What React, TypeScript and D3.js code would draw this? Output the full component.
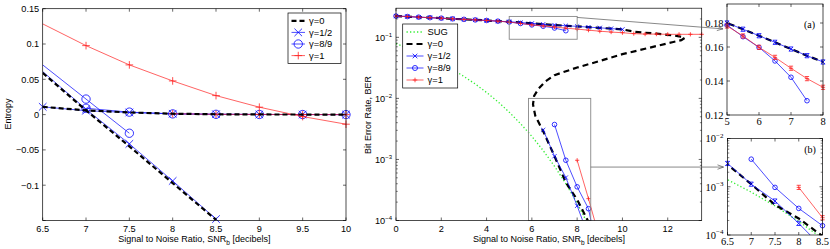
import React from 'react';
import * as d3 from 'd3';

// ---------- left panel: entropy ----------
const entSnr = [6.5, 7, 7.5, 8, 8.5, 9, 9.5, 10];
const entSlopeSnr = [6.5, 7, 7.5, 8, 8.5];
const entG0Flat = [0.011, 0.006, 0.003, 0.0012, 0.0005, 0.0002, 0.0001, 0];
const entG0Slope = [0.059, 0.006, -0.045, -0.097, -0.149];
const entHalfFlat = [0.011, 0.0055, 0.003, 0.0012, 0.0005, 0.0002, 0.0001, 0];
const entHalfSlope = [0.061, 0.0075, -0.0415, -0.094, -0.148];
const entNinthSnr = [7, 7.5, 8, 8.5, 9, 9.5, 10];
const entNinthFlat = [0.009, 0.0035, 0.001, 0.0004, 0.0002, 0.0001, 0];
const entNinthSlopeSnr = [6.5, 7, 7.5];
const entNinthSlope = [0.0704, 0.022, -0.0264];
const entOneCurve = [0.1285, 0.0977, 0.0704, 0.0477, 0.0269, 0.0105, -0.0028, -0.0136];
const entOneFlatSnr = [8, 8.5, 9, 9.5, 10];
const entOneFlat = [0.0012, 0.0004, 0.0002, 0.0001, 0];
const entXTicks = [6.5, 7, 7.5, 8, 8.5, 9, 9.5, 10];
const entYTicks = [-0.15, -0.1, -0.05, 0, 0.05, 0.1, 0.15];
const entYLabels = [-0.1, -0.05, 0, 0.05, 0.1, 0.15];

// ---------- middle panel: bit error rate ----------
const berSnr = [0, 0.5, 1, 1.5, 2, 2.5, 3, 3.5, 4, 4.5, 5, 5.5, 6, 6.5, 7, 7.5, 8, 8.5, 9, 9.5, 10,
  10.5, 11, 11.5, 12, 12.5, 13, 13.5];
const sugSnr = [0, 0.5, 1, 1.5, 2, 2.5, 3, 3.5, 4, 4.5, 5, 5.5, 6, 6.5, 7, 7.5, 8, 8.5];
const sugBer = [0.0786, 0.0671, 0.0563, 0.0464, 0.0375, 0.0296, 0.0229, 0.0172, 0.0125, 0.00882,
  0.00595, 0.00385, 0.00239, 0.0014, 0.000773, 0.000401, 0.000191, 0.000084];
const halfUpper = [0.223, 0.219, 0.214, 0.21, 0.206, 0.201, 0.197, 0.193, 0.189, 0.184, 0.18,
  0.1748, 0.1694, 0.1639, 0.1588, 0.1549, 0.1512, 0.147, 0.143, 0.139, 0.135];
const halfLowerSnr = [6.5, 7, 7.5, 8, 8.5];
const halfLower = [0.00304, 0.00113, 0.000505, 0.000174, 0.000055];
const ninthUpper = [0.223, 0.219, 0.214, 0.21, 0.206, 0.201, 0.197, 0.193, 0.189, 0.184, 0.1783,
  0.1686, 0.1598, 0.1518, 0.1422, 0.1284];
const ninthLowerSnr = [7, 7.5, 8, 8.5, 9];
const ninthLower = [0.00373, 0.00097, 0.000356, 0.000156, 0.00002];
const oneUpper = [0.223, 0.219, 0.214, 0.21, 0.206, 0.201, 0.197, 0.193, 0.189, 0.184, 0.1775,
  0.1692, 0.1598, 0.1539, 0.1475, 0.1414, 0.1363, 0.131, 0.126, 0.122, 0.119, 0.115, 0.113,
  0.113, 0.112, 0.112, 0.112, 0.112];
const oneLowerSnr = [8, 8.5, 9];
const oneLower = [0.00097, 0.000228, 0.00005];
// gamma = 0 : one S-shaped curve (upper branch, turn, middle branch, lower branch)
const g0Snr = [0, 0.5, 1, 1.5, 2, 2.5, 3, 3.5, 4, 4.5, 5, 5.5, 6, 6.5, 7, 7.5, 8, 8.5, 9, 9.5, 10,
  10.5, 11, 11.5, 12, 12.5, 12.75, 12.6, 12.2, 11.5, 11, 10, 9, 8, 7.4, 7, 6.6, 6.3, 6.1, 6.05,
  6.15, 6.5, 7, 7.5, 8, 8.5];
const g0Ber = [0.223, 0.219, 0.214, 0.21, 0.206, 0.201, 0.197, 0.193, 0.189, 0.184, 0.18, 0.1748,
  0.1694, 0.1639, 0.1588, 0.1549, 0.1512, 0.147, 0.143, 0.139, 0.135, 0.124, 0.119, 0.115, 0.11,
  0.104, 0.098, 0.09, 0.083, 0.072, 0.065, 0.053, 0.041, 0.032, 0.027, 0.024, 0.019, 0.0145,
  0.011, 0.008, 0.0052, 0.0029, 0.00113, 0.00042, 0.00022, 0.000095];
const berXTicks = [0, 2, 4, 6, 8, 10, 12];
const berDecades = [-4, -3, -2, -1];

// zoom boxes drawn in the middle panel (data coordinates)
const zoomA = { x: [5, 8], y: [0.093, 0.22] };
const zoomB = { x: [5.85, 8.6], y: [0.0001, 0.01] };

// insets
const insetAXTicks = [5, 6, 7, 8];
const insetAYTicks = [0.12, 0.14, 0.16, 0.18];
const insetBXTicks = [6.5, 7, 7.5, 8, 8.5];
const insetBDecades = [-4, -3, -2];

const SANS = '"Liberation Sans", Arial, Helvetica, sans-serif';
const SERIF = '"Liberation Serif", "Times New Roman", serif';
const BLUE = '#0000ff';
const RED = '#ff2020';
const GREEN = '#33ee33';

type Mk = 'x' | 'o' | '+' | null;
interface Seg { x: number[]; y: number[]; hideFirst?: boolean }
interface Series { name: string; color: string; width: number; dash?: string; marker: Mk; segs: Seg[] }

const entSeries: Series[] = [
  { name: 'γ=1/2', color: BLUE, width: 0.7, marker: 'x', segs: [
    { x: entSnr, y: entHalfFlat }, { x: entSlopeSnr, y: entHalfSlope, hideFirst: true }] },
  { name: 'γ=8/9', color: BLUE, width: 0.7, marker: 'o', segs: [
    { x: entNinthSnr, y: entNinthFlat }, { x: entNinthSlopeSnr, y: entNinthSlope, hideFirst: true }] },
  { name: 'γ=1', color: RED, width: 0.7, marker: '+', segs: [
    { x: entSnr, y: entOneCurve, hideFirst: true }, { x: entOneFlatSnr, y: entOneFlat }] },
  { name: 'γ=0', color: '#000', width: 2.2, dash: '5,3', marker: null, segs: [
    { x: entSnr, y: entG0Flat }, { x: entSlopeSnr, y: entG0Slope }] },
];

const berSeries: Series[] = [
  { name: 'SUG', color: GREEN, width: 1.3, dash: '1.3,2.2', marker: null, segs: [{ x: sugSnr, y: sugBer }] },
  { name: 'γ=0', color: '#000', width: 2.2, dash: '6,4', marker: null, segs: [{ x: g0Snr, y: g0Ber }] },
  { name: 'γ=1/2', color: BLUE, width: 0.7, marker: 'x', segs: [
    { x: berSnr.slice(0, halfUpper.length), y: halfUpper }, { x: halfLowerSnr, y: halfLower }] },
  { name: 'γ=8/9', color: BLUE, width: 0.7, marker: 'o', segs: [
    { x: berSnr.slice(0, ninthUpper.length), y: ninthUpper }, { x: ninthLowerSnr, y: ninthLower }] },
  { name: 'γ=1', color: RED, width: 0.7, marker: '+', segs: [
    { x: berSnr.slice(0, oneUpper.length), y: oneUpper }, { x: oneLowerSnr, y: oneLower }] },
];

type Box = [number, number, number, number]; // left, right, top, bottom in pixels

function Marker({ type, cx, cy, s, color, caps }: { type: Mk; cx: number; cy: number; s: number; color: string; caps?: boolean }) {
  if (type === 'o') return <circle cx={cx} cy={cy} r={s} fill="none" stroke={color} strokeWidth={0.8} />;
  let d = '';
  if (type === 'x') d = `M${cx - s},${cy - s}L${cx + s},${cy + s}M${cx - s},${cy + s}L${cx + s},${cy - s}`;
  if (type === '+') d = `M${cx - s},${cy}L${cx + s},${cy}M${cx},${cy - s}L${cx},${cy + s}`;
  if (caps) d += `M${cx - s},${cy - s}L${cx + s},${cy - s}M${cx - s},${cy + s}L${cx + s},${cy + s}`;
  return <path d={d} fill="none" stroke={color} strokeWidth={0.8} />;
}

function Curves({ series, xs, ys, box, clip, ms, caps }: {
  series: Series[]; xs: any; ys: any; box: Box; clip: string; ms: number; caps?: boolean;
}) {
  const line = d3.line<[number, number]>().x(d => xs(d[0])).y(d => ys(d[1]));
  const inside = (px: number, py: number) =>
    px >= box[0] - 0.5 && px <= box[1] + 0.5 && py >= box[2] - 0.5 && py <= box[3] + 0.5;
  return (
    <g>
      {series.map(s => (
        <g key={s.name}>
          {s.segs.map((g, i) => {
            const pts = g.x.map((x, j) => [x, g.y[j]] as [number, number]);
            return <path key={i} d={line(pts) || ''} fill="none" stroke={s.color} strokeWidth={s.width}
              strokeDasharray={s.dash} clipPath={`url(#${clip})`} />;
          })}
          {s.marker && s.segs.map((g, i) => g.x.map((x, j) => {
            if (g.hideFirst && j === 0) return null;
            const px = xs(x), py = ys(g.y[j]);
            if (!inside(px, py)) return null;
            const sz = s.marker === 'o' ? ms * 1.1 : ms;
            return <Marker key={`${i}-${j}`} type={s.marker} cx={px} cy={py} s={sz} color={s.color} caps={caps && s.marker !== 'o'} />;
          }))}
        </g>
      ))}
    </g>
  );
}

function Frame({ box }: { box: Box }) {
  return <rect x={box[0]} y={box[2]} width={box[1] - box[0]} height={box[3] - box[2]} fill="none" stroke="#000" strokeWidth={0.7} />;
}

function XTicks({ xs, box, ticks, font, size, dy }: {
  xs: any; box: Box; ticks: number[]; font: string; size: number; dy: number;
}) {
  return (
    <g>
      {ticks.map(t => (
        <g key={t}>
          <line x1={xs(t)} x2={xs(t)} y1={box[3]} y2={box[3] - 3} stroke="#000" strokeWidth={0.6} />
          <line x1={xs(t)} x2={xs(t)} y1={box[2]} y2={box[2] + 3} stroke="#000" strokeWidth={0.6} />
          <text x={xs(t)} y={box[3] + dy} textAnchor="middle" fontFamily={font} fontSize={size}>{String(t)}</text>
        </g>
      ))}
    </g>
  );
}

function YTicks({ ys, box, ticks, labels, fmt, font, size }: {
  ys: any; box: Box; ticks: number[]; labels: number[]; fmt: (v: number) => string; font: string; size: number;
}) {
  return (
    <g>
      {ticks.map(t => (
        <g key={t}>
          <line x1={box[0]} x2={box[0] + 3} y1={ys(t)} y2={ys(t)} stroke="#000" strokeWidth={0.6} />
          <line x1={box[1]} x2={box[1] - 3} y1={ys(t)} y2={ys(t)} stroke="#000" strokeWidth={0.6} />
        </g>
      ))}
      {labels.map(t => (
        <text key={t} x={box[0] - 3.5} y={ys(t) + size * 0.36} textAnchor="end" fontFamily={font} fontSize={size}>{fmt(t)}</text>
      ))}
    </g>
  );
}

function LogTicks({ ys, box, decades, font, size, supSize }: {
  ys: any; box: Box; decades: number[]; font: string; size: number; supSize: number;
}) {
  const [lo, hi] = ys.domain();
  const minors: number[] = [];
  for (let e = Math.floor(Math.log10(lo)); e < Math.ceil(Math.log10(hi)); e++) {
    for (let k = 2; k <= 9; k++) {
      const v = k * Math.pow(10, e);
      if (v > lo && v < hi) minors.push(v);
    }
  }
  return (
    <g>
      {minors.map(v => (
        <g key={v}>
          <line x1={box[0]} x2={box[0] + 1.8} y1={ys(v)} y2={ys(v)} stroke="#000" strokeWidth={0.5} />
          <line x1={box[1]} x2={box[1] - 1.8} y1={ys(v)} y2={ys(v)} stroke="#000" strokeWidth={0.5} />
        </g>
      ))}
      {decades.map(e => {
        const y = ys(Math.pow(10, e));
        return (
          <g key={e}>
            <line x1={box[0]} x2={box[0] + 3} y1={y} y2={y} stroke="#000" strokeWidth={0.6} />
            <line x1={box[1]} x2={box[1] - 3} y1={y} y2={y} stroke="#000" strokeWidth={0.6} />
            <text x={box[0] - 4} y={y + size * 0.36} textAnchor="end" fontFamily={font} fontSize={size}>
              10<tspan dy={-size * 0.45} fontSize={supSize}>{`−${-e}`}</tspan>
            </text>
          </g>
        );
      })}
    </g>
  );
}

function Legend({ x, y, w, rowH, series, order, lineX, ms }: {
  x: number; y: number; w: number; rowH: number; series: Series[]; order: string[]; lineX: [number, number]; ms: number;
}) {
  const items = order.map(n => series.find(s => s.name === n)!);
  const h = rowH * items.length + 4;
  return (
    <g>
      <rect x={x} y={y} width={w} height={h} fill="#fff" stroke="#000" strokeWidth={0.7} />
      {items.map((s, i) => {
        const cy = y + 2 + rowH * (i + 0.5);
        const cx = (lineX[0] + lineX[1]) / 2;
        return (
          <g key={s.name}>
            <line x1={lineX[0]} x2={lineX[1]} y1={cy} y2={cy} stroke={s.color} strokeWidth={s.width} strokeDasharray={s.dash} />
            {s.marker && <Marker type={s.marker} cx={cx} cy={cy} s={s.marker === 'o' ? ms * 1.1 : ms} color={s.color} />}
            <text x={lineX[1] + 4} y={cy + 3.3} fontFamily={SANS} fontSize={9.4}>{s.name}</text>
          </g>
        );
      })}
    </g>
  );
}

function XLabel({ x, y }: { x: number; y: number }) {
  return (
    <text x={x} y={y} textAnchor="middle" fontFamily={SANS} fontSize={9}>
      Signal to Noise Ratio, SNR<tspan dy={2.5} fontSize={6.5}>b</tspan><tspan dy={-2.5}> [decibels]</tspan>
    </text>
  );
}

export default function App() {
  // pixel boxes of the four axes
  const entBox: Box = [42.7, 346, 8.7, 220.5];
  const berBox: Box = [396, 701.7, 8.2, 220.5];
  const aBox: Box = [727, 823, 4, 115];
  const bBox: Box = [727.5, 822.5, 138.5, 235];

  // scales
  const entX = d3.scaleLinear().domain([6.5, 10]).range([entBox[0], entBox[1]]);
  const entY = d3.scaleLinear().domain([-0.15, 0.15]).range([entBox[3], entBox[2]]);
  const berX = d3.scaleLinear().domain([0, 13.5]).range([berBox[0], berBox[1]]);
  const berY = d3.scaleLog().domain([1e-4, 0.3]).range([berBox[3], berBox[2]]);
  const aX = d3.scaleLinear().domain([5, 8]).range([aBox[0], aBox[1]]);
  const aY = d3.scaleLinear().domain(insetAYTicks).range([115, 81, 47, 23]);
  const bX = d3.scaleLinear().domain([6.5, 8.5]).range([bBox[0], bBox[1]]);
  const bY = d3.scaleLog().domain([1e-4, 1e-2]).range([bBox[3], bBox[2]]);

  const fmtEnt = (v: number) => (v < 0 ? '−' : '') + String(Math.abs(v));
  const fmtA = (v: number) => v.toFixed(2);

  // zoom rectangles and arrows
  const rA = { x0: berX(zoomA.x[0]), x1: berX(zoomA.x[1]), y0: berY(zoomA.y[1]), y1: berY(zoomA.y[0]) };
  const rB = { x0: berX(zoomB.x[0]), x1: berX(zoomB.x[1]), y0: berY(zoomB.y[1]), y1: berY(zoomB.y[0]) };
  const arrowA = { x1: rA.x1, y1: rA.y0 + 1, x2: aX(5) - 10, y2: aY(0.1755) };
  const arrowBy = berY(0.00075);
  const arrowB = { x1: rB.x1, y1: arrowBy, x2: bX(6.5) - 10, y2: arrowBy };
  const head = (x: number, y: number, ang: number) => {
    const l = 6, w = 2.2;
    const c = Math.cos(ang), s = Math.sin(ang);
    return `M${x + l * c},${y + l * s}L${x - w * s},${y + w * c}M${x + l * c},${y + l * s}L${x + w * s},${y - w * c}M${x},${y}L${x + l * c},${y + l * s}`;
  };
  const angA = Math.atan2(arrowA.y2 - arrowA.y1, arrowA.x2 - arrowA.x1);

  const clipRect = (b: Box) => <rect x={b[0]} y={b[2]} width={b[1] - b[0]} height={b[3] - b[2]} />;

  return (
    <svg width={830} height={249} style={{ position: 'absolute', left: 0, top: 0, background: '#fff' }}>
      <defs>
        <clipPath id="clipEnt">{clipRect(entBox)}</clipPath>
        <clipPath id="clipBer">{clipRect(berBox)}</clipPath>
        <clipPath id="clipA">{clipRect(aBox)}</clipPath>
        <clipPath id="clipB">{clipRect(bBox)}</clipPath>
      </defs>
      <rect width={830} height={249} fill="#fff" />

      {/* ---------- entropy panel ---------- */}
      <Curves series={entSeries} xs={entX} ys={entY} box={entBox} clip="clipEnt" ms={3.8} />
      <Frame box={entBox} />
      <XTicks xs={entX} box={entBox} ticks={entXTicks} font={SANS} size={9.2} dy={11.5} />
      <YTicks ys={entY} box={entBox} ticks={entYTicks} labels={entYLabels} fmt={fmtEnt} font={SANS} size={9.2} />
      <text transform="translate(10.5,114) rotate(-90)" textAnchor="middle" fontFamily={SANS} fontSize={9}>Entropy</text>
      <XLabel x={194.4} y={242} />
      <Legend x={288} y={13} w={53} rowH={11.6} series={entSeries} order={['γ=0', 'γ=1/2', 'γ=8/9', 'γ=1']}
        lineX={[291.5, 305]} ms={3.8} />

      {/* ---------- BER panel ---------- */}
      <Curves series={berSeries} xs={berX} ys={berY} box={berBox} clip="clipBer" ms={2.1} />
      <rect x={rA.x0} y={rA.y0} width={rA.x1 - rA.x0} height={rA.y1 - rA.y0} fill="none" stroke="#888" strokeWidth={0.9} />
      <rect x={rB.x0} y={rB.y0} width={rB.x1 - rB.x0} height={rB.y1 - rB.y0} fill="none" stroke="#888" strokeWidth={0.9} />
      <Frame box={berBox} />
      <XTicks xs={berX} box={berBox} ticks={berXTicks} font={SANS} size={9.2} dy={11.5} />
      <LogTicks ys={berY} box={berBox} decades={berDecades} font={SANS} size={9.2} supSize={6} />
      <text transform="translate(371,115) rotate(-90)" textAnchor="middle" fontFamily={SANS} fontSize={9}>Bit Error Rate, BER</text>
      <XLabel x={549} y={242} />
      <Legend x={402.7} y={24} w={55} rowH={12} series={berSeries} order={['SUG', 'γ=0', 'γ=1/2', 'γ=8/9', 'γ=1']}
        lineX={[406.5, 423.5]} ms={2.3} />

      {/* arrows */}
      <line x1={arrowA.x1} y1={arrowA.y1} x2={arrowA.x2} y2={arrowA.y2} stroke="#555" strokeWidth={0.7} />
      <path d={head(arrowA.x2, arrowA.y2, angA)} fill="none" stroke="#555" strokeWidth={0.7} />
      <line x1={arrowB.x1} y1={arrowB.y1} x2={arrowB.x2} y2={arrowB.y2} stroke="#555" strokeWidth={0.7} />
      <path d={head(arrowB.x2, arrowB.y2, 0)} fill="none" stroke="#555" strokeWidth={0.7} />

      {/* ---------- inset (a) ---------- */}
      <Curves series={berSeries} xs={aX} ys={aY} box={aBox} clip="clipA" ms={2.1} caps />
      <Frame box={aBox} />
      <XTicks xs={aX} box={aBox} ticks={insetAXTicks} font={SERIF} size={10.5} dy={9.5} />
      <YTicks ys={aY} box={aBox} ticks={insetAYTicks} labels={insetAYTicks} fmt={fmtA} font={SERIF} size={10.5} />
      <text x={809.5} y={27.5} textAnchor="middle" fontFamily={SERIF} fontSize={10}>(a)</text>

      {/* ---------- inset (b) ---------- */}
      <Curves series={berSeries} xs={bX} ys={bY} box={bBox} clip="clipB" ms={2.1} caps />
      <Frame box={bBox} />
      <XTicks xs={bX} box={bBox} ticks={insetBXTicks} font={SERIF} size={10.5} dy={10} />
      <LogTicks ys={bY} box={bBox} decades={insetBDecades} font={SERIF} size={10.5} supSize={7} />
      <text x={810} y={152.5} textAnchor="middle" fontFamily={SERIF} fontSize={10}>(b)</text>
    </svg>
  );
}
